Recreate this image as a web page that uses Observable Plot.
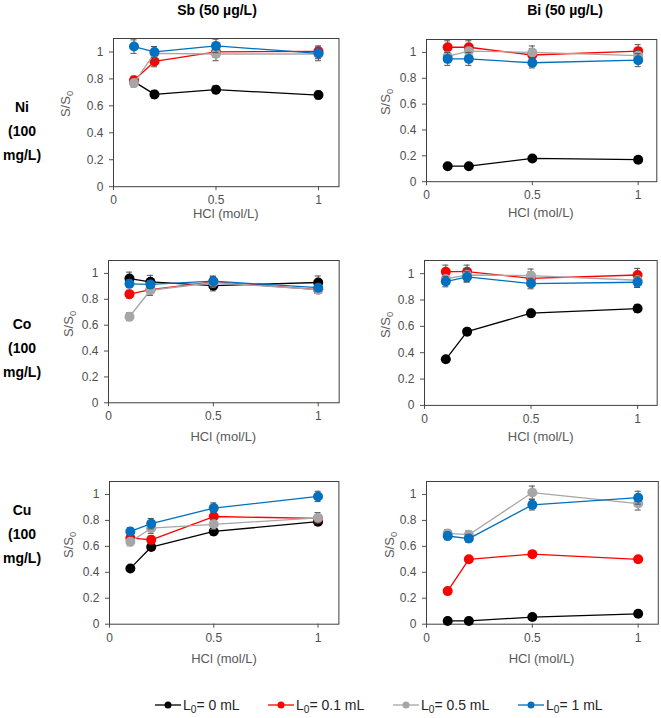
<!DOCTYPE html>
<html>
<head>
<meta charset="utf-8">
<script src="https://cdn.jsdelivr.net/npm/d3@7"></script>
<script src="https://cdn.jsdelivr.net/npm/@observablehq/plot@0.6"></script>
<style>
  html, body { margin: 0; padding: 0; background: #fff; }
  #chart { position: relative; width: 661px; height: 718px; font-family: "Liberation Sans", Arial, sans-serif; overflow: hidden; }
  #chart svg text { font-size: 12px; font-family: "Liberation Sans", Arial, sans-serif; }
  .abs { position: absolute; white-space: nowrap; }
  .ttl { font-weight: bold; font-size: 14px; color: #000; transform: translate(-50%, -50%); }
  .axt { font-size: 13px; color: #595959; }
  .sub { font-size: 0.72em; position: relative; top: 0.3em; }
  .leg { font-size: 14px; color: #262626; display: flex; align-items: center; transform: translateY(-50%); }
  svg { overflow: visible; }
</style>
</head>
<body>
<div id="chart"></div>
<script>
// ---- data ----
const hcl = [0.1, 0.2, 0.5, 1];
const seriesNames = ["L0= 0 mL", "L0= 0.1 mL", "L0= 0.5 mL", "L0= 1 mL"];
const seriesLegend = ["0 mL", "0.1 mL", "0.5 mL", "1 mL"];
const seriesColors = ["#000000", "#FF0000", "#A6A6A6", "#0070C0"];
const columnTitles = ["Sb (50 µg/L)", "Bi (50 µg/L)"];
const rowLabels = [["Ni", "(100", "mg/L)"], ["Co", "(100", "mg/L)"], ["Cu", "(100", "mg/L)"]];
const xTicks = [0, 0.5, 1];
const yTicks = [0, 0.2, 0.4, 0.6, 0.8, 1];
const xLabel = "HCl (mol/L)";

// S/S0 values, one row per series (0, 0.1, 0.5, 1 mL), one column per HCl value
const sbNi = [[0.78, 0.685, 0.72, 0.68], [0.79, 0.93, 1.00, 1.005], [0.77, 0.99, 0.985, 0.985], [1.04, 1.00, 1.045, 0.99]];
const sbNiErr = [[0.03, 0.03, 0.03, 0.03], [0.03, 0.04, 0.04, 0.04], [0.03, 0.05, 0.05, 0.05], [0.05, 0.04, 0.05, 0.04]];
const biNi = [[0.12, 0.12, 0.18, 0.17], [1.04, 1.04, 0.98, 1.01], [0.97, 1.01, 1.00, 0.975], [0.95, 0.95, 0.92, 0.94]];
const biNiErr = [[0.01, 0.01, 0.01, 0.01], [0.05, 0.05, 0.05, 0.05], [0.04, 0.04, 0.05, 0.04], [0.05, 0.05, 0.04, 0.05]];
const sbCo = [[0.96, 0.935, 0.905, 0.93], [0.84, 0.875, 0.935, 0.875], [0.665, 0.87, 0.93, 0.875], [0.92, 0.915, 0.94, 0.89]];
const sbCoErr = [[0.05, 0.05, 0.04, 0.05], [0.03, 0.03, 0.04, 0.03], [0.03, 0.04, 0.04, 0.03], [0.03, 0.03, 0.04, 0.03]];
const biCo = [[0.35, 0.56, 0.70, 0.735], [1.015, 1.015, 0.965, 0.99], [0.96, 0.99, 0.985, 0.95], [0.94, 0.975, 0.925, 0.935]];
const biCoErr = [[0.01, 0.02, 0.03, 0.03], [0.05, 0.05, 0.05, 0.05], [0.04, 0.05, 0.05, 0.05], [0.04, 0.04, 0.04, 0.04]];
const sbCu = [[0.43, 0.595, 0.715, 0.79], [0.665, 0.65, 0.83, 0.815], [0.635, 0.74, 0.77, 0.82], [0.715, 0.775, 0.895, 0.985]];
const sbCuErr = [[0.01, 0.02, 0.03, 0.03], [0.03, 0.03, 0.03, 0.03], [0.03, 0.04, 0.04, 0.04], [0.03, 0.04, 0.04, 0.04]];
const biCu = [[0.025, 0.025, 0.055, 0.08], [0.255, 0.50, 0.54, 0.50], [0.70, 0.69, 1.015, 0.93], [0.68, 0.66, 0.92, 0.975]];
const biCuErr = [[0.005, 0.005, 0.01, 0.01], [0.01, 0.02, 0.02, 0.02], [0.03, 0.03, 0.05, 0.05], [0.03, 0.03, 0.04, 0.05]];

// ---- layout (pixel geometry of each plot area) ----
const panels = [
  {vals: sbNi, errs: sbNiErr, left: 113, right: 338.5, top: 37.5, bottom: 185.7, xmax: 1.1, ytx: 65, xty: 213},
  {vals: biNi, errs: biNiErr, left: 425.7, right: 656, top: 38.8, bottom: 181, xmax: 1.088, ytx: 385, xty: 212},
  {vals: sbCo, errs: sbCoErr, left: 108, right: 338.7, top: 260.4, bottom: 402.7, xmax: 1.1, ytx: 68, xty: 436},
  {vals: biCo, errs: biCoErr, left: 424.3, right: 657, top: 260.1, bottom: 405, xmax: 1.092, ytx: 385, xty: 436},
  {vals: sbCu, errs: sbCuErr, left: 109.3, right: 338.7, top: 481.3, bottom: 624, xmax: 1.1, ytx: 68, xty: 658},
  {vals: biCu, errs: biCuErr, left: 425.7, right: 657.5, top: 481.3, bottom: 624, xmax: 1.095, ytx: 389, xty: 658}
];

const chart = document.getElementById("chart");
const mL = 50, mR = 10, mT = 10, mB = 25;
const errColor = "#505050";

function addDiv(cls, html, x, y, extra) {
  const d = document.createElement("div");
  d.className = "abs " + cls;
  d.innerHTML = html;
  d.style.left = x + "px";
  d.style.top = y + "px";
  if (extra) Object.assign(d.style, extra);
  chart.appendChild(d);
  return d;
}

panels.forEach(p => {
  const rows = [];
  p.vals.forEach((vs, s) => vs.forEach((v, i) => rows.push({x: hcl[i], y: v, e: p.errs[s][i], s: seriesNames[s]})));
  const marks = [Plot.frame({stroke: "#404040", strokeWidth: 1})];
  seriesNames.forEach((name) => {
    const d = rows.filter(r => r.s === name);
    marks.push(
      Plot.ruleX(d, {x: "x", y1: r => r.y - r.e, y2: r => r.y + r.e, stroke: errColor, strokeWidth: 1}),
      Plot.ruleY(d, {y: r => r.y + r.e, x1: "x", x2: "x", insetLeft: -3, insetRight: -3, stroke: errColor, strokeWidth: 1}),
      Plot.ruleY(d, {y: r => r.y - r.e, x1: "x", x2: "x", insetLeft: -3, insetRight: -3, stroke: errColor, strokeWidth: 1}),
      Plot.line(d, {x: "x", y: "y", stroke: "s", strokeWidth: 1.3}),
      Plot.dot(d, {x: "x", y: "y", fill: "s", r: 5})
    );
  });
  const w = p.right - p.left, h = p.bottom - p.top;
  const svg = Plot.plot({
    width: w + mL + mR,
    height: h + mT + mB,
    marginLeft: mL, marginRight: mR, marginTop: mT, marginBottom: mB,
    style: {fontSize: "12px", fontFamily: "'Liberation Sans', Arial, sans-serif", color: "#505050", background: "transparent", overflow: "visible"},
    x: {domain: [0, p.xmax], ticks: xTicks, tickFormat: d => String(d), tickSize: 4, tickPadding: 5, label: null},
    y: {domain: [0, 1.1], ticks: yTicks, tickFormat: d => String(d), tickSize: 4, tickPadding: 6, label: null},
    color: {domain: seriesNames, range: seriesColors},
    marks
  });
  svg.style.position = "absolute";
  svg.style.left = (p.left - mL) + "px";
  svg.style.top = (p.top - mT) + "px";
  chart.appendChild(svg);
  // axis titles
  addDiv("axt", "S/S<span class='sub'>0</span>", p.ytx, (p.top + p.bottom) / 2 - 8, {transform: "translate(-50%,-50%) rotate(-90deg)"});
  addDiv("axt", xLabel, (p.left + p.right) / 2, p.xty, {transform: "translate(-50%,-50%)"});
});

// column titles
addDiv("ttl", columnTitles[0], 217, 10);
addDiv("ttl", columnTitles[1], 565, 10);

// row labels
const rowY = [[107, 131, 155], [324, 348, 372], [510, 534, 558]];
rowLabels.forEach((lines, r) => lines.forEach((t, k) => addDiv("ttl", t, 22, rowY[r][k])));

// legend
const legX = [155, 268, 393, 518];
seriesNames.forEach((name, i) => {
  const html = `<svg width="26" height="10" style="overflow:visible"><line x1="0" x2="26" y1="5" y2="5" stroke="${seriesColors[i]}" stroke-width="1.3"/><circle cx="13" cy="5" r="3.5" fill="${seriesColors[i]}"/></svg><span style="margin-left:2px">L<span class="sub">0</span>= ${seriesLegend[i]}</span>`;
  addDiv("leg", html, legX[i], 705);
});
</script>
</body>
</html>
